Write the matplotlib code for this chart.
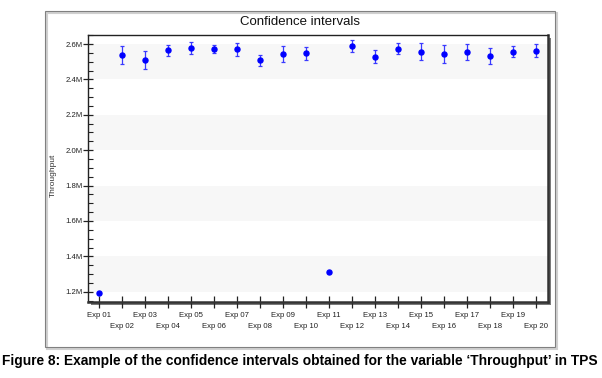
import matplotlib
matplotlib.use("Agg")
import matplotlib.pyplot as plt
from matplotlib.patches import Rectangle
from matplotlib.ticker import FuncFormatter, FixedLocator, MultipleLocator

# values (TPS)
experiments = [f"Exp {i:02d}" for i in range(1, 21)]
throughput = [1194000, 2538000, 2510000, 2564000, 2578000, 2570000, 2570000,
              2508000, 2542000, 2549000, 1309000, 2587000, 2529000, 2574000,
              2557000, 2542000, 2553000, 2531000, 2557000, 2562000]
ci_half = [4000, 49000, 50000, 29000, 34000, 23000, 35000, 31000, 45000, 37000,
           5000, 34000, 37000, 33000, 46000, 50000, 46000, 45000, 30000, 37000]
y_ticks = [1200000, 1400000, 1600000, 1800000, 2000000, 2200000, 2400000, 2600000]

W, H = 602, 378
plt.rcParams['font.family'] = ['Liberation Sans', 'DejaVu Sans']

fig = plt.figure(figsize=(W / 100, H / 100), dpi=100)


def box(x0, y0, x1, y1):
    # pixel box -> figure fraction rect
    return [x0 / W, 1 - y1 / H, (x1 - x0) / W, (y1 - y0) / H]


# outer frame with soft shadow
r = box(45, 11, 555, 347)
fig.patches.append(Rectangle((r[0] + 2 / W, r[1] - 2 / H), r[2], r[3], transform=fig.transFigure,
                             fill=False, ec='#d0d0d0', lw=1.5, zorder=-3))
fig.patches.append(Rectangle((r[0], r[1]), r[2], r[3], transform=fig.transFigure,
                             fill=False, ec='#808080', lw=0.8, zorder=-2))

# plot area shadow
a = box(88.3, 35, 548, 302)
fig.patches.append(Rectangle((a[0] + 3 / W, a[1] - 3 / H), a[2], a[3], transform=fig.transFigure,
                             fc='#7a7a7a', ec='none', zorder=-1))

ax = fig.add_axes(a)
ax.set_facecolor('white')
x = list(range(1, len(experiments) + 1))

# alternating bands
for lo in y_ticks[::2]:
    ax.axhspan(lo, lo + 200000, color='#f7f7f7', zorder=0, lw=0)

ax.errorbar(x, throughput, yerr=ci_half, fmt='o', color='#0000ff', ms=3.6,
            ecolor='#3a3aff', elinewidth=0.9, capsize=1.3, capthick=0.9, zorder=3)

ax.set_xlim(0.52, 20.52)
ax.set_ylim(1142000, 2651000)

# x ticks: odd labels on first row, even labels on second
ax.xaxis.set_major_locator(FixedLocator(x[::2]))
ax.xaxis.set_minor_locator(FixedLocator(x[1::2]))
ax.set_xticklabels(experiments[::2])
ax.set_xticklabels(experiments[1::2], minor=True)
ax.tick_params(axis='x', which='both', direction='inout', length=9, width=0.9,
               labelsize=5.6, colors='#222222')
ax.tick_params(axis='x', which='major', pad=2.5)
ax.tick_params(axis='x', which='minor', pad=10.5)

ax.yaxis.set_major_locator(FixedLocator(y_ticks))
ax.yaxis.set_minor_locator(MultipleLocator(50000))
ax.yaxis.set_major_formatter(FuncFormatter(lambda v, p: f"{v / 1e6:.1f}M"))
ax.tick_params(axis='y', which='major', direction='inout', length=7, width=0.9,
               labelsize=5.6, pad=0.5, colors='#222222')
ax.tick_params(axis='y', which='minor', direction='in', length=3.5, width=0.8, colors='#222222')

for side in ['top', 'left']:
    ax.spines[side].set_linewidth(1.0)
    ax.spines[side].set_color('#222222')
for side in ['bottom', 'right']:
    ax.spines[side].set_linewidth(1.8)
    ax.spines[side].set_color('#333333')

ax.set_ylabel("Throughput", fontsize=6, color='#333333')
ax.yaxis.set_label_coords(-0.068, 0.476)

fig.text(300 / W, 1 - 22 / H, "Confidence intervals", ha='center', va='center',
         fontsize=9.5, color='#111111')

fig.text(300 / W, 1 - 361 / H,
         "Figure 8: Example of the confidence intervals obtained for the variable \u2018Throughput\u2019 in TPS",
         ha='center', va='center', fontsize=9.9, fontweight='bold', color='black')

fig.savefig('out.png', dpi=100)
